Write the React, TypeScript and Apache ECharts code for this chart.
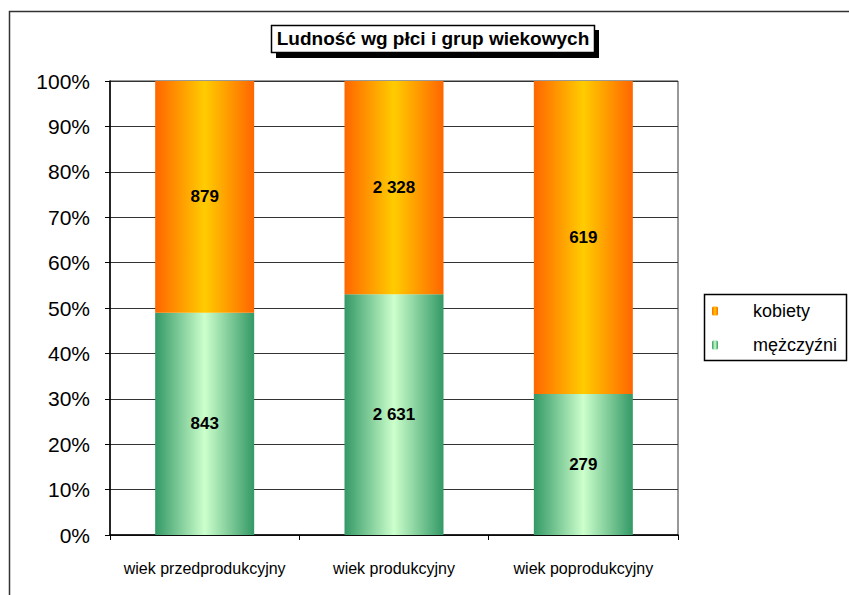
import React, { useEffect, useRef } from "react";
import * as echarts from "echarts";

const categories = ["wiek przedprodukcyjny", "wiek produkcyjny", "wiek poprodukcyjny"];
const menValues = [843, 2631, 279];
const womenValues = [879, 2328, 619];
const yTicks = [0, 10, 20, 30, 40, 50, 60, 70, 80, 90, 100];
const titleText = "Ludność wg płci i grup wiekowych";
const seriesNames = { women: "kobiety", men: "mężczyźni" };

const fmt = (v: number) => String(v).replace(/\B(?=(\d{3})+(?!\d))/g, " ");

export default function App() {
  const ref = useRef<HTMLDivElement>(null);
  useEffect(() => {
    if (!ref.current) return;
    const chart = echarts.init(ref.current, null, { renderer: "svg" });
    const totals = menValues.map((m, i) => m + womenValues[i]);
    const menPct = menValues.map((m, i) => ({ value: (m / totals[i]) * 100, raw: m }));
    const womenPct = womenValues.map((w, i) => ({ value: (w / totals[i]) * 100, raw: w }));
    const orange = new echarts.graphic.LinearGradient(0, 0, 1, 0, [
      { offset: 0, color: "#FF6600" },
      { offset: 0.5, color: "#FFCC00" },
      { offset: 1, color: "#FF6600" },
    ]);
    const green = new echarts.graphic.LinearGradient(0, 0, 1, 0, [
      { offset: 0, color: "#339966" },
      { offset: 0.5, color: "#CCFFCC" },
      { offset: 1, color: "#339966" },
    ]);
    const font = "Arial, 'Liberation Sans', sans-serif";
    const label = {
      show: true,
      position: "inside",
      color: "#000",
      fontWeight: "bold",
      fontSize: 17,
      fontFamily: font,
      formatter: (p: any) => fmt(p.data.raw),
    };
    chart.setOption({
      animation: false,
      backgroundColor: "#fff",
      title: {
        text: titleText,
        left: 433,
        textAlign: "center",
        top: 29,
        padding: 0,
        z: 10,
        textStyle: { fontFamily: font, fontWeight: "bold", fontSize: 19, color: "#000" },
      },
      graphic: [
        {
          type: "rect",
          z: 0,
          silent: true,
          shape: { x: 9.5, y: 11.5, width: 1000, height: 1000 },
          style: { fill: "none", stroke: "#333", lineWidth: 1.5 },
        },
        {
          type: "rect",
          z: 4,
          silent: true,
          shape: { x: 276, y: 30, width: 323, height: 28 },
          style: { fill: "#000" },
        },
        {
          type: "rect",
          z: 5,
          silent: true,
          shape: { x: 271.5, y: 25.5, width: 323, height: 27 },
          style: { fill: "#fff", stroke: "#000", lineWidth: 1.5 },
        },
        {
          type: "rect",
          z: 5,
          silent: true,
          shape: { x: 704.5, y: 294.5, width: 142, height: 66 },
          style: { fill: "#fff", stroke: "#000", lineWidth: 1.5 },
        },
      ],
      legend: {
        data: [seriesNames.women, seriesNames.men],
        orient: "vertical",
        left: 712,
        top: 302,
        padding: 0,
        z: 10,
        itemWidth: 6,
        itemHeight: 9,
        itemGap: 16,
        textStyle: {
          fontFamily: font,
          fontSize: 18,
          color: "#000",
          padding: [0, 0, 0, 30],
        },
      },
      grid: {
        left: 110,
        right: 171,
        top: 81,
        bottom: 60,
        show: true,
        borderColor: "#333",
        borderWidth: 1,
        containLabel: false,
      },
      xAxis: {
        type: "category",
        data: categories,
        axisLine: { lineStyle: { color: "#000", width: 1.5 } },
        axisTick: { show: true, length: 5, lineStyle: { color: "#000" } },
        axisLabel: { color: "#000", fontSize: 16, fontFamily: font, margin: 25, interval: 0 },
      },
      yAxis: {
        type: "value",
        min: 0,
        max: 100,
        interval: 10,
        axisLine: { show: true, lineStyle: { color: "#000", width: 1.5 } },
        axisTick: { show: true, length: 5, lineStyle: { color: "#000" } },
        splitLine: { show: true, lineStyle: { color: "#333", width: 1.2 } },
        axisLabel: {
          color: "#000",
          fontSize: 21,
          fontFamily: font,
          margin: 20,
          formatter: (v: number) => (yTicks.includes(v) ? v + "%" : ""),
        },
      },
      series: [
        {
          name: seriesNames.men,
          type: "bar",
          stack: "total",
          barWidth: 99,
          data: menPct,
          itemStyle: { color: green },
          label,
        },
        {
          name: seriesNames.women,
          type: "bar",
          stack: "total",
          barWidth: 99,
          data: womenPct,
          itemStyle: { color: orange },
          label,
        },
      ],
    });
    return () => chart.dispose();
  }, []);
  return (
    <div
      ref={ref}
      style={{ position: "absolute", left: 0, top: 0, width: 849, height: 595 }}
    />
  );
}
